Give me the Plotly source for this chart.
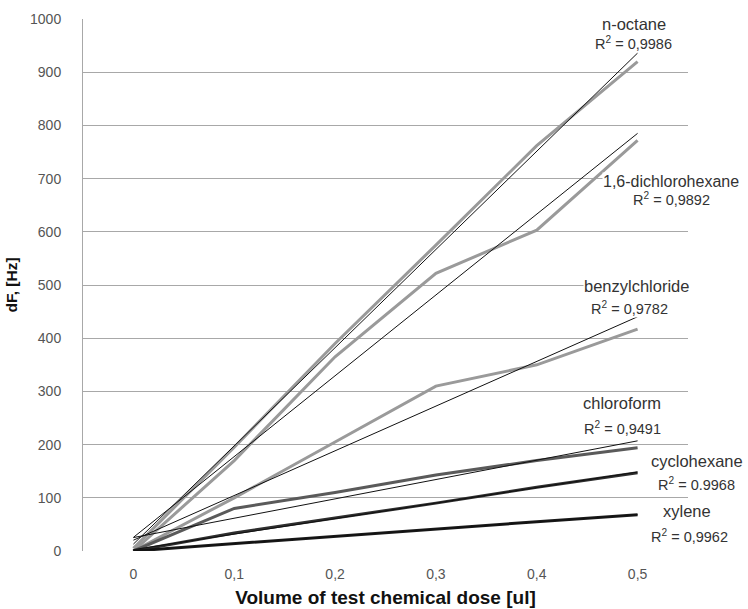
import numpy as np
import plotly.graph_objects as go

categories = ["0", "0,1", "0,2", "0,3", "0,4", "0,5"]

n_octane = [5, 195, 390, 575, 762, 920]
dichlorohexane = [0, 170, 365, 522, 603, 772]
benzylchloride = [0, 100, 205, 310, 350, 417]
chloroform = [0, 80, 110, 143, 170, 194]
cyclohexane = [0, 34, 62, 90, 120, 147]
xylene = [0, 14, 28, 41, 55, 68]

series_names = ["n-octane", "1,6-dichlorohexane", "benzylchloride",
                "chloroform", "cyclohexane", "xylene"]
r2_labels = ["R<sup>2</sup> = 0,9986", "R<sup>2</sup> = 0,9892", "R<sup>2</sup> = 0,9782",
             "R<sup>2</sup> = 0,9491", "R<sup>2</sup> = 0.9968", "R<sup>2</sup> = 0,9962"]

y_ticks = [0, 100, 200, 300, 400, 500, 600, 700, 800, 900, 1000]

series = [n_octane, dichlorohexane, benzylchloride, chloroform, cyclohexane, xylene]
colors = ["#9a9a9a", "#9a9a9a", "#9a9a9a", "#5a5a5a", "#2e2e2e", "#1a1a1a"]

fig = go.Figure()
idx = np.arange(len(categories))
for vals, col, name in zip(series, colors, series_names):
    fig.add_trace(go.Scatter(x=categories, y=vals, mode="lines", name=name,
                             line=dict(color=col, width=3), showlegend=False))
for vals, name in zip(series, series_names):
    k, b = np.polyfit(idx, vals, 1)
    fit = k * idx + b
    fig.add_trace(go.Scatter(x=categories, y=fit, mode="lines", name=name + " trend",
                             line=dict(color="#111111", width=1), showlegend=False))

# plot area in pixels: x 83..688, y 19..551
L, R, T, B = 83, 688, 19, 551
W, H = 748, 609

def px(x):
    return (x - L) / (R - L)

def py(y):
    return (B - y) / (B - T)

# (name cx, cy, size, r2 cx, cy, size) in pixels
label_pos = [
    (634, 24, 16.5, 633, 43, 14.5),
    (671, 181, 16, 671, 199, 14.5),
    (636, 286, 16.5, 629, 308, 14.5),
    (622, 403, 16.5, 622, 428, 14.5),
    (697, 461, 16.5, 696, 484, 14.5),
    (687, 511, 16.5, 689, 536, 14.5),
]
font_fam = "Liberation Sans, Arial, sans-serif"
for name, r2, (x1, y1, s1, x2, y2, s2) in zip(series_names, r2_labels, label_pos):
    fig.add_annotation(x=px(x1), y=py(y1), xref="paper", yref="paper", text=name,
                       xanchor="center", yanchor="middle",
                       showarrow=False, bgcolor="white", borderpad=0,
                       font=dict(family=font_fam, size=s1, color="#333333"))
    fig.add_annotation(x=px(x2), y=py(y2), xref="paper", yref="paper", text=r2,
                       xanchor="center", yanchor="middle",
                       showarrow=False, bgcolor="white", borderpad=0,
                       font=dict(family=font_fam, size=s2, color="#333333"))

fig.update_layout(
    width=W, height=H,
    margin=dict(l=L, r=W - R, t=T, b=H - B),
    paper_bgcolor="white", plot_bgcolor="white",
    font=dict(family=font_fam, color="#444444"),
    xaxis=dict(type="category", categoryorder="array", categoryarray=categories,
               range=[-0.5, 5.5], showgrid=False, zeroline=False, showline=False,
               automargin=False,
               ticks="", tickfont=dict(size=14, color="#555555"), ticklabelstandoff=13,
               title=dict(text="<b>Volume of test chemical dose [ul]</b>",
                          font=dict(size=19, color="#111111"), standoff=9)),
    yaxis=dict(range=[0, 1000], tickvals=y_ticks, showgrid=True, gridcolor="#a8a8a8",
               gridwidth=1, zeroline=False, showline=True, linecolor="#a8a8a8",
               automargin=False,
               ticks="", tickfont=dict(size=14, color="#555555"), ticklabelstandoff=18,
               title=dict(text="<b>dF, [Hz]</b>", font=dict(size=15.5, color="#111111"),
                          standoff=8)),
)

fig.write_html("out.html", config={"displayModeBar": False},
               post_script="document.body.style.margin='0';document.body.style.overflow='hidden';")
